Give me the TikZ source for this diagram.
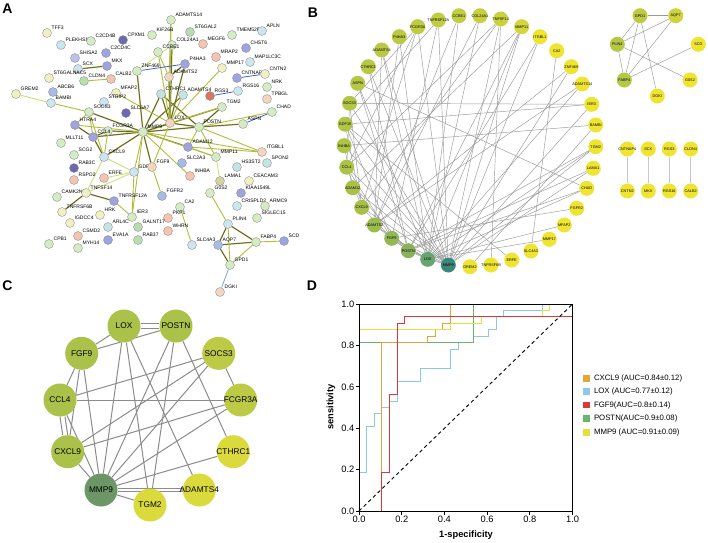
\documentclass[tikz,border=0pt]{standalone}
\usepackage{fontspec}
\setmainfont{Liberation Sans}
\usetikzlibrary{calc}
\pgfdeclarelayer{back}
\pgfdeclarelayer{edges}
\pgfsetlayers{back,edges,main}
\definecolor{sg}{RGB}{212,236,196}
\definecolor{sgd}{RGB}{184,222,176}
\definecolor{sy}{RGB}{240,240,196}
\definecolor{sb}{RGB}{204,230,240}
\definecolor{sbl}{RGB}{168,186,232}
\definecolor{sp}{RGB}{160,164,222}
\definecolor{sdp}{RGB}{110,104,176}
\definecolor{ss}{RGB}{244,196,176}
\definecolor{spe}{RGB}{244,214,190}
\definecolor{stl}{RGB}{196,228,228}
\definecolor{skh}{RGB}{214,210,160}
\definecolor{sred}{RGB}{214,120,96}
\definecolor{sl}{RGB}{190,192,234}
\definecolor{eol}{RGB}{176,190,58}
\definecolor{epu}{RGB}{72,44,96}
\definecolor{eli}{RGB}{200,224,100}
\definecolor{ebl}{RGB}{70,100,200}
\definecolor{elb}{RGB}{110,170,225}
\definecolor{bY}{RGB}{240,228,50}
\definecolor{bG}{RGB}{166,192,74}
\definecolor{bT}{RGB}{60,135,125}
\definecolor{bL}{RGB}{102,164,112}
\definecolor{bP}{RGB}{136,178,92}
\definecolor{cG}{RGB}{170,193,74}
\definecolor{cS}{RGB}{188,202,70}
\definecolor{cY}{RGB}{218,218,60}
\definecolor{cM}{RGB}{108,150,102}
\definecolor{rOr}{RGB}{226,164,60}
\definecolor{rBl}{RGB}{140,200,232}
\definecolor{rRe}{RGB}{220,56,56}
\definecolor{rGr}{RGB}{104,182,110}
\definecolor{rYe}{RGB}{232,222,64}
\tikzset{
 anode/.style={circle, draw=black!45, line width=0.35pt, minimum size=9pt, inner sep=0pt},
 alab/.style={anchor=west, inner sep=0pt, font=\fontsize{5}{5}\selectfont},
 bnode/.style={circle, minimum size=15pt, inner sep=0pt},
 blab/.style={inner sep=0pt, font=\fontsize{3.8}{4}\selectfont},
 cnode/.style={circle, minimum size=33pt, inner sep=0pt},
 clab/.style={inner sep=0pt, font=\fontsize{8.3}{9}\selectfont},
 ea/.style={draw=epu, line width=0.45pt, preaction={draw=eol, line width=1.5pt}},
 eo/.style={draw=eol, line width=0.9pt},
 eg/.style={draw=eli, line width=0.8pt},
 eb/.style={draw=ebl, line width=0.8pt},
 bedge/.style={draw=black!40, line width=0.45pt},
 cedge/.style={draw=black!45, line width=1pt},
 plabel/.style={font=\bfseries\fontsize{14}{14}\selectfont, inner sep=0pt},
 roc/.style={line width=1pt},
}
\newcommand{\gA}[5]{\node[anode,fill=#4] (#1) at (#2,#3) {}; \node[alab] (#1l) at ([xshift=4.5pt,yshift=5pt]#1.center) {#5};}
\newcommand{\gB}[5]{\node[bnode,fill=#4] (#1) at (#2,#3) {}; \node[blab] (#1t) at (#1.center) {#5};}
\newcommand{\gC}[5]{\node[cnode,fill=#4] (#1) at (#2,#3) {}; \node[clab] (#1t) at (#1.center) {#5};}
\begin{document}
\begin{tikzpicture}[x=1pt,y=-1pt]
\useasboundingbox (0,0) rectangle (708,542);
\begin{pgfonlayer}{back}
\fill[white] (0,0) rectangle (708,542);
\end{pgfonlayer}
% panel letters
\node[plabel] (lA) at (7.5,8.5) {A};
\node[plabel] (lB) at (313,13) {B};
\node[plabel] (lC) at (7.5,286) {C};
\node[plabel] (lD) at (312,286) {D};
% ================= Panel A =================
\gA{aTFF3}{47}{33}{sy}{TFF3}
\gA{aKIF26B}{152}{35}{sg}{KIF26B}
\gA{aADAMTS14}{171}{20}{sg}{ADAMTS14}
\gA{aTMEM52B}{232}{35}{sg}{TMEM52B}
\gA{aAPLN}{262}{31}{sb}{APLN}
\gA{aST6GAL2}{190}{32}{sgd}{ST6GAL2}
\gA{aPLEKHS1}{61}{45}{sb}{PLEKHS1}
\gA{aC2CD4B}{91}{41}{sg}{C2CD4B}
\gA{aCPXM1}{123}{40}{sdp}{CPXM1}
\gA{aCOL24A1}{172}{45}{sg}{COL24A1}
\gA{aMEGF6}{203}{44}{ss}{MEGF6}
\gA{aCHST6}{246}{48}{sp}{CHST6}
\gA{aC2CD4C}{106}{53}{sp}{C2CD4C}
\gA{aCCBE1}{158}{52}{sg}{CCBE1}
\gA{aSHISA2}{75}{58}{sl}{SHISA2}
\gA{aMRAP2}{216}{57}{ss}{MRAP2}
\gA{aMAP1LC3C}{250}{62}{sb}{MAP1LC3C}
\gA{aMKX}{107}{66}{sp}{MKX}
\gA{aSCX}{78}{69}{sb}{SCX}
\gA{aZNF469}{137}{71}{sg}{ZNF469}
\gA{aP4HA3}{185}{64}{sp}{P4HA3}
\gA{aMMP17}{222}{68}{sy}{MMP17}
\gA{aST6GALNAC5}{49}{78}{sy}{ST6GALNAC5}
\gA{aCLDN4}{84}{81}{sgd}{CLDN4}
\gA{aCALB2}{111}{79}{ss}{CALB2}
\gA{aADAMTS2}{169}{77}{spe}{ADAMTS2}
\gA{aCNTNAP4}{237}{78}{sp}{CNTNAP4}
\gA{aCNTN2}{265}{74}{sy}{CNTN2}
\gA{aABCB6}{53}{92}{sbl}{ABCB6}
\gA{aGREM2}{16}{94}{sy}{GREM2}
\gA{aMFAP2}{116}{93}{sy}{MFAP2}
\gA{aCTHRC1}{161}{94}{stl}{CTHRC1}
\gA{aADAMTS4}{183}{95}{stl}{ADAMTS4}
\gA{aRGS3}{210}{96}{sred}{RGS3}
\gA{aNRK}{267}{87}{sg}{NRK}
\gA{aRGS16}{238}{91}{sb}{RGS16}
\gA{aBAMBI}{51}{103}{sb}{BAMBI}
\gA{aTPBGL}{267}{99}{spe}{TPBGL}
\gA{aSTRIP2}{104}{102}{sb}{STRIP2}
\gA{aTGM2}{222}{107}{sg}{TGM2}
\gA{aCHAD}{272}{112}{sg}{CHAD}
\gA{aSOCS3}{89}{112}{sg}{SOCS3}
\gA{aSLC6A7}{126}{113}{sdp}{SLC6A7}
\gA{aLOX}{170}{123}{spe}{LOX}
\gA{aPOSTN}{199}{127}{sg}{POSTN}
\gA{aASPN}{243}{124}{sg}{ASPN}
\gA{aHTRA4}{75}{125}{sp}{HTRA4}
\gA{aFCGR3A}{108}{131}{sg}{FCGR3A}
\gA{aMMP9}{143}{132}{sg}{MMP9}
\gA{aITGBL1}{262}{152}{spe}{ITGBL1}
\gA{aADAM12}{188}{147}{sp}{ADAM12}
\gA{aMLLT11}{61}{143}{sg}{MLLT11}
\gA{aCCL4}{93}{137}{sp}{CCL4}
\gA{aSCG2}{74}{155}{sg}{SCG2}
\gA{aCXCL9}{104}{157}{sb}{CXCL9}
\gA{aMMP11}{216}{157}{sg}{MMP11}
\gA{aHS3ST2}{237}{167}{stl}{HS3ST2}
\gA{aSPON2}{267}{163}{stl}{SPON2}
\gA{aSLC2A3}{182}{163}{sbl}{SLC2A3}
\gA{aRAB3C}{74}{168}{sdp}{RAB3C}
\gA{aGDF15}{134}{172}{sb}{GDF15}
\gA{aFGF9}{152}{167}{spe}{FGF9}
\gA{aINHBA}{190}{176}{ss}{INHBA}
\gA{aLAMA1}{220}{181}{skh}{LAMA1}
\gA{aCEACAM3}{249}{181}{sy}{CEACAM3}
\gA{aRSPO2}{74}{180}{ss}{RSPO2}
\gA{aERFE}{104}{178}{ss}{ERFE}
\gA{aKIAA1549L}{241}{193}{sp}{KIAA1549L}
\gA{aG0S2}{210}{193}{sg}{G0S2}
\gA{aCAMK2N1}{57}{197}{sg}{CAMK2N1}
\gA{aTNFSF14}{86}{193}{sy}{TNFSF14}
\gA{aTNFRSF12A}{114}{201}{sp}{TNFRSF12A}
\gA{aFGFR2}{162}{196}{sbl}{FGFR2}
\gA{aCA2}{180}{207}{sg}{CA2}
\gA{aCRISPLD2}{237}{206}{sb}{CRISPLD2}
\gA{aARMC9}{265}{206}{sg}{ARMC9}
\gA{aTNFRSF6B}{62}{212}{sy}{TNFRSF6B}
\gA{aHRK}{100}{215}{sy}{HRK}
\gA{aIER3}{132}{217}{sg}{IER3}
\gA{aPKP1}{168}{218}{ss}{PKP1}
\gA{aSIGLEC15}{257}{218}{sg}{SIGLEC15}
\gA{aIGDCC4}{70}{223}{sy}{IGDCC4}
\gA{aARL4C}{108}{227}{stl}{ARL4C}
\gA{aGALNT17}{138}{227}{sgd}{GALNT17}
\gA{aPLIN4}{228}{224}{sb}{PLIN4}
\gA{aWHRN}{168}{231}{ss}{WHRN}
\gA{aCSMD2}{78}{236}{ss}{CSMD2}
\gA{aEVA1A}{108}{240}{sp}{EVA1A}
\gA{aRAB37}{138}{240}{sgd}{RAB37}
\gA{aSLC4A3}{192}{245}{sb}{SLC4A3}
\gA{aAQP7}{218}{245}{sbl}{AQP7}
\gA{aFABP4}{256}{242}{sg}{FABP4}
\gA{aSCD}{284}{241}{sp}{SCD}
\gA{aCPB1}{49}{244}{sg}{CPB1}
\gA{aMYH14}{78}{248}{sg}{MYH14}
\gA{aGPD1}{230}{265}{sg}{GPD1}
\gA{aDGKI}{220}{292}{spe}{DGKI}
\begin{pgfonlayer}{edges}
\foreach \u/\v in {aMMP9/aLOX,aMMP9/aPOSTN,aMMP9/aCCL4,aMMP9/aCXCL9,aMMP9/aFCGR3A,aMMP9/aSOCS3,aMMP9/aFGF9,aMMP9/aCTHRC1,aMMP9/aADAMTS4,aMMP9/aTGM2,aMMP9/aADAM12,aMMP9/aZNF469,aLOX/aPOSTN,aLOX/aADAMTS2,aLOX/aP4HA3,aLOX/aCTHRC1,aLOX/aCOL24A1,aPOSTN/aASPN,aPOSTN/aTGM2,aPOSTN/aCTHRC1,aCXCL9/aCCL4,aCCL4/aFCGR3A,aCCL4/aHTRA4,aSCX/aMKX,aAQP7/aPLIN4,aAQP7/aGPD1,aAQP7/aFABP4,aPLIN4/aFABP4,aADAMTS2/aP4HA3,aTNFSF14/aTNFRSF6B,aTNFRSF12A/aTNFSF14}
  \draw[ea] (\u) -- (\v);
\foreach \u/\v in {aMMP9/aMMP11,aMMP9/aGDF15,aMMP9/aITGBL1,aMMP9/aHTRA4,aMMP9/aIER3,aMMP9/aINHBA,aLOX/aMFAP2,aLOX/aTGM2,aLOX/aFGF9,aLOX/aADAMTS4,aLOX/aADAMTS14,aLOX/aCCBE1,aPOSTN/aADAM12,aPOSTN/aMMP11,aPOSTN/aITGBL1,aPOSTN/aCHAD,aADAM12/aMMP11,aADAM12/aITGBL1,aCXCL9/aFCGR3A,aCXCL9/aSOCS3,aCCL4/aSOCS3,aBAMBI/aSOCS3,aCA2/aSLC4A3,aG0S2/aPLIN4,aPLIN4/aGPD1,aFABP4/aSCD,aFABP4/aGPD1,aCLDN4/aCALB2,aFGF9/aFGFR2,aGDF15/aIER3,aTNFRSF12A/aIER3,aADAMTS2/aCCBE1,aADAMTS2/aADAMTS14,aMMP17/aLOX,aSOCS3/aHTRA4}
  \draw[eo] (\u) -- (\v);
\foreach \u/\v in {aGREM2/aBAMBI,aGDF15/aERFE,aCXCL9/aGDF15,aCXCL9/aTNFSF14,aGDF15/aTNFSF14,aMMP11/aLAMA1,aZNF469/aCOL24A1}
  \draw[eg] (\u) -- (\v);
\foreach \u/\v in {aASPN/aCHAD,aRGS3/aRGS16,aCNTNAP4/aCNTN2,aZNF469/aP4HA3}
  \draw[eb] (\u) -- (\v);
\draw[draw=elb, line width=0.8pt] (aGPD1) -- (aDGKI);
\end{pgfonlayer}
% ================= Panel B =================
\gB{bMMP9}{448.3}{265}{bT}{MMP9}
\gB{bLOX}{427.7}{259.3}{bL}{LOX}
\gB{bPOSTN}{408.3}{250.7}{bP}{POSTN}
\gB{bFGF9}{391.7}{238.3}{bP!60!bG}{FGF9}
\gB{bADAMTS2}{374.3}{225}{bP!30!bG}{ADAMTS2}
\gB{bCXCL9}{361.7}{207.3}{bG}{CXCL9}
\gB{bADAM12}{352.7}{187.7}{bY!4!bG}{ADAM12}
\gB{bCCL4}{346.7}{167.2}{bY!8!bG}{CCL4}
\gB{bINHBA}{344.1}{145.7}{bY!11!bG}{INHBA}
\gB{bGDF15}{345.1}{124.2}{bY!14!bG}{GDF15}
\gB{bSOCS3}{349.6}{103.3}{bY!17!bG}{SOCS3}
\gB{bASPN}{357.7}{83.3}{bY!20!bG}{ASPN}
\gB{bCTHRC1}{368.3}{66.7}{bY!23!bG}{CTHRC1}
\gB{bADAMTS4}{381.7}{50}{bY!26!bG}{ADAMTS4}
\gB{bP4HA3}{399.3}{36.7}{bY!29!bG}{P4HA3}
\gB{bFCGR3A}{417.7}{26.7}{bY!32!bG}{FCGR3A}
\gB{bTNFRSF12A}{438.3}{20}{bY!35!bG}{TNFRSF12A}
\gB{bCCBE1}{459}{15.7}{bY!38!bG}{CCBE1}
\gB{bCOL24A1}{480}{15.7}{bY!42!bG}{COL24A1}
\gB{bTNFSF14}{500.7}{19}{bY!48!bG}{TNFSF14}
\gB{bMMP11}{521.7}{26.7}{bY!60!bG}{MMP11}
\gB{bITGBL1}{540}{36.7}{bY}{ITGBL1}
\gB{bCA2}{556.7}{50.7}{bY}{CA2}
\gB{bZNF469}{571.3}{66.7}{bY}{ZNF469}
\gB{bADAMTS14}{582.3}{84}{bY}{ADAMTS14}
\gB{bIER3}{591.7}{104.3}{bY}{IER3}
\gB{bBAMBI}{595.7}{125}{bY}{BAMBI}
\gB{bTGM2}{595.7}{146.7}{bY}{TGM2}
\gB{bLAMA1}{593.3}{168.3}{bY}{LAMA1}
\gB{bCHAD}{586.7}{188.3}{bY}{CHAD}
\gB{bFGFR2}{576.7}{208.3}{bY}{FGFR2}
\gB{bMFAP2}{564.3}{225}{bY}{MFAP2}
\gB{bMMP17}{549.3}{239.3}{bY}{MMP17}
\gB{bSLC4A3}{531}{251}{bY}{SLC4A3}
\gB{bERFE}{511.7}{260}{bY}{ERFE}
\gB{bTNFRSF6B}{491}{265}{bY}{TNFRSF6B}
\gB{bGREM2}{470}{266.7}{bY}{GREM2}
% group 1
\gB{bGPD1}{640}{15.7}{bY!30!bG}{GPD1}
\gB{bAQP7}{675.7}{15.7}{bY!55!bG}{AQP7}
\gB{bPLIN4}{617.3}{44.3}{bY!20!bG}{PLIN4}
\gB{bSCD}{698.3}{44.3}{bY}{SCD}
\gB{bFABP4}{624.3}{80}{bY!20!bG}{FABP4}
\gB{bG0S2}{690}{80}{bY}{G0S2}
\gB{bDGKI}{657.3}{96}{bY}{DGKI}
% group 2
\gB{bCNTNAP4}{627.3}{149}{bY}{CNTNAP4}
\gB{bSCX}{648.3}{149}{bY}{SCX}
\gB{bRGS3}{669.3}{149}{bY}{RGS3}
\gB{bCLDN4}{690.7}{149}{bY}{CLDN4}
\gB{bCNTN2}{627.3}{191}{bY}{CNTN2}
\gB{bMKX}{648.3}{191}{bY}{MKX}
\gB{bRGS16}{669.3}{191}{bY}{RGS16}
\gB{bCALB2}{690.7}{191}{bY}{CALB2}
\begin{pgfonlayer}{edges}
\foreach \u/\v in {bMMP9/bLOX,bMMP9/bPOSTN,bMMP9/bFGF9,bMMP9/bCXCL9,bMMP9/bCCL4,bMMP9/bSOCS3,bMMP9/bFCGR3A,bMMP9/bCTHRC1,bMMP9/bTGM2,bMMP9/bADAMTS4,bMMP9/bADAM12,bMMP9/bMMP11,bMMP9/bGDF15,bMMP9/bINHBA,bMMP9/bITGBL1,bMMP9/bIER3,bMMP9/bLAMA1,bMMP9/bTNFRSF12A,bMMP9/bTNFSF14,bMMP9/bZNF469,
 bLOX/bPOSTN,bLOX/bFGF9,bLOX/bTGM2,bLOX/bADAMTS4,bLOX/bADAMTS2,bLOX/bP4HA3,bLOX/bCOL24A1,bLOX/bASPN,bLOX/bCHAD,bLOX/bMFAP2,bLOX/bADAMTS14,bLOX/bMMP11,bLOX/bCCBE1,bLOX/bMMP17,
 bPOSTN/bFGF9,bPOSTN/bTGM2,bPOSTN/bCTHRC1,bPOSTN/bASPN,bPOSTN/bADAM12,bPOSTN/bITGBL1,bPOSTN/bMMP11,bPOSTN/bCHAD,bPOSTN/bADAMTS2,bPOSTN/bLAMA1,
 bFGF9/bCCL4,bFGF9/bCXCL9,bFGF9/bFGFR2,bFGF9/bGDF15,bFGF9/bTNFRSF12A,
 bADAMTS2/bP4HA3,bADAMTS2/bADAMTS14,bADAMTS2/bADAMTS4,bADAMTS2/bCCBE1,bADAMTS2/bCOL24A1,bADAMTS2/bZNF469,
 bCXCL9/bCCL4,bCXCL9/bSOCS3,bCXCL9/bFCGR3A,bCXCL9/bTNFSF14,bCXCL9/bGDF15,
 bADAM12/bMMP11,bADAM12/bINHBA,bCCL4/bFCGR3A,bCCL4/bSOCS3,bCCL4/bTNFSF14,
 bGDF15/bERFE,bGDF15/bIER3,bGDF15/bTNFRSF12A,bINHBA/bBAMBI,bSOCS3/bFCGR3A,bSOCS3/bIER3,
 bASPN/bCHAD,bTNFSF14/bTNFRSF6B,bCA2/bSLC4A3,bBAMBI/bGREM2,
 bGPD1/bAQP7,bGPD1/bPLIN4,bGPD1/bFABP4,bGPD1/bDGKI,bAQP7/bPLIN4,bAQP7/bFABP4,bPLIN4/bFABP4,bPLIN4/bG0S2,bSCD/bFABP4}
  \draw[bedge] (\u) -- (\v);
\foreach \u/\v in {bCNTNAP4/bCNTN2,bSCX/bMKX,bRGS3/bRGS16,bCLDN4/bCALB2}
  \draw[draw=black!22, line width=1.3pt] (\u) -- (\v);
\end{pgfonlayer}
% ================= Panel C =================
\gC{cLOX}{124}{326}{cG}{LOX}
\gC{cPOSTN}{176}{326}{cG}{POSTN}
\gC{cFGF9}{81.7}{353.3}{cG}{FGF9}
\gC{cSOCS3}{218.7}{353.3}{cS}{SOCS3}
\gC{cCCL4}{60}{400}{cG}{CCL4}
\gC{cFCGR3A}{240.7}{400}{cS}{FCGR3A}
\gC{cCXCL9}{67.7}{451.7}{cG}{CXCL9}
\gC{cCTHRC1}{233.3}{451.7}{cY}{CTHRC1}
\gC{cMMP9}{101}{490}{cM}{MMP9}
\gC{cTGM2}{150}{505}{cY}{TGM2}
\gC{cADAMTS4}{199.3}{490}{cY}{ADAMTS4}
\begin{pgfonlayer}{edges}
\draw[cedge,transform canvas={yshift=2.5pt}] (cLOX) -- (cPOSTN);
\draw[cedge,transform canvas={yshift=-2.5pt}] (cLOX) -- (cPOSTN);
\draw[cedge,transform canvas={yshift=1.8pt}] (cMMP9) -- (cADAMTS4);
\draw[cedge,transform canvas={yshift=-1.8pt}] (cMMP9) -- (cADAMTS4);
\draw[cedge,transform canvas={xshift=2.5pt}] (cCCL4) -- (cCXCL9);
\draw[cedge,transform canvas={xshift=-2.5pt}] (cCCL4) -- (cCXCL9);
\foreach \u/\v in {cLOX/cFGF9,cFGF9/cPOSTN,cFGF9/cCCL4,cFGF9/cCXCL9,cFGF9/cMMP9,cCCL4/cFCGR3A,cCCL4/cSOCS3,cCCL4/cMMP9,cCXCL9/cSOCS3,cCXCL9/cFCGR3A,cCXCL9/cMMP9,cLOX/cMMP9,cLOX/cTGM2,cLOX/cADAMTS4,cPOSTN/cMMP9,cPOSTN/cTGM2,cPOSTN/cCTHRC1,cSOCS3/cFCGR3A,cSOCS3/cMMP9,cFCGR3A/cMMP9,cCTHRC1/cMMP9,cMMP9/cTGM2}
  \draw[cedge] (\u) -- (\v);
\end{pgfonlayer}
% ================= Panel D =================
\begin{scope}[shift={(359pt,-511pt)},x=7.6286pt,y=6.46875pt]
\draw[roc,rBl] (0,0)--(0,6)--(1,6)--(1,13)--(2,13)--(2,15)--(3,15)--(3,16)--(4,16)--(4,17)--(5,17)--(5,20)--(8,20)--(8,22)--(12,22)--(12,25)--(13,25)--(13,26)--(15,26)--(15,27)--(17,27)--(17,28)--(18,28)--(18,30)--(19,30)--(19,31)--(24,31)--(24,32)--(28,32);
\draw[roc,rGr] (0,0)--(0,26)--(15,26)--(15,32)--(28,32);
\draw[roc,rOr] (0,0)--(3,0)--(3,26)--(9,26)--(9,27)--(10,27)--(10,28)--(11,28)--(11,29)--(12,29)--(12,32)--(28,32);
\draw[roc,rYe] (0,0)--(0,28)--(12,28)--(12,29)--(16,29)--(16,30)--(24,30)--(24,31)--(25,31)--(25,32)--(28,32);
\draw[roc,rRe] (0,0)--(3,0)--(3,6)--(4,6)--(4,18)--(5,18)--(5,29)--(6,29)--(6,30)--(28,30)--(28,32);
\draw[dash pattern=on 3.5pt off 3pt, line width=0.9pt] (0,0) -- (28,32);
\draw[line width=0.9pt] (0,0) rectangle (28,32);
\foreach \k/\t in {0/0.0,1/0.2,2/0.4,3/0.6,4/0.8,5/1.0}{
  \draw[line width=0.8pt] (0,6.4*\k) -- ++(-3.5pt,0);
  \draw[line width=0.8pt] (5.6*\k,0) -- ++(0,-3.5pt);
  \node[anchor=east, inner sep=0pt, font=\fontsize{9.3}{10}\selectfont] (yt\k) at ([xshift=-4.5pt]0,6.4*\k) {\t};
  \node[anchor=north, inner sep=0pt, font=\fontsize{9.3}{10}\selectfont] (xt\k) at ([yshift=-5pt]5.6*\k,0) {\t};
}
\end{scope}
\node[font=\bfseries\fontsize{9.3}{10}\selectfont, inner sep=0pt] (xlab) at (466,535.5) {1-specificity};
\node[rotate=90, font=\bfseries\fontsize{9.3}{10}\selectfont, inner sep=0pt] (ylab) at (331,407) {sensitivity};
\foreach \i/\c/\t/\y in {1/rOr/{CXCL9 (AUC=0.84±0.12)}/378.3, 2/rBl/{LOX (AUC=0.77±0.12)}/391.7, 3/rRe/{FGF9(AUC=0.8±0.14)}/405, 4/rGr/{POSTN(AUC=0.9±0.08)}/418.7, 5/rYe/{MMP9 (AUC=0.91±0.09)}/432.3}{
  \node[fill=\c, minimum size=6.5pt, inner sep=0pt] (lg\i) at (586.7,\y) {};
  \node[anchor=west, inner sep=0pt, font=\fontsize{7.8}{8}\selectfont] (lt\i) at (593.8,\y) {\t};
}
\end{tikzpicture}
\end{document}
